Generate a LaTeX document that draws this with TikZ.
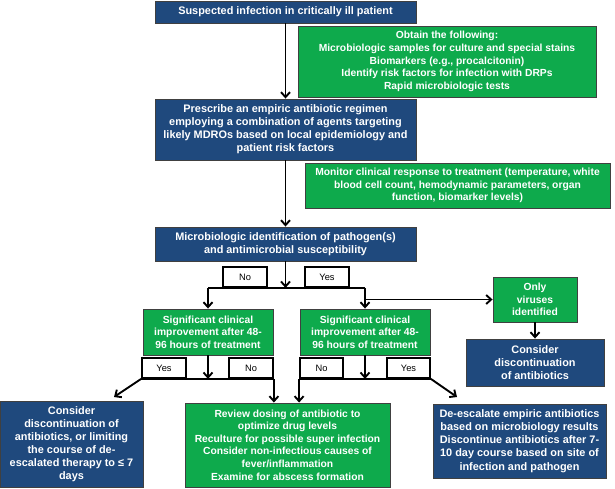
\documentclass[tikz,border=0pt]{standalone}
\usepackage{fontspec}
\setmainfont{Liberation Sans}
\usetikzlibrary{arrows.meta}
\definecolor{boxblue}{HTML}{1F497D}
\definecolor{boxgreen}{HTML}{0EAA4C}
\newcommand\mybox[7]{\node[#1, minimum width={(#5-#3)*1pt}, minimum height={(#6-#4)*1pt}] (#2) at ({(#3+#5)/2},{(#4+#6)/2}) {#7};}
\begin{document}
\begin{tikzpicture}[x=1pt,y=-1pt,
 base/.style={draw=black!75, line width=0.9pt, inner sep=0pt, align=center, text=white},
 bluebox/.style={base, fill=boxblue, font=\fontsize{10.9}{13.1}\selectfont\bfseries},
 greenbox/.style={base, fill=boxgreen, font=\fontsize{10.3}{12.6}\selectfont\bfseries},
 lbl/.style={draw=black, line width=1.8pt, fill=white, inner sep=0pt, font=\fontsize{9.3}{10}\selectfont},
 conn/.style={line width=1.9pt, draw=black},
 arr/.style={conn, -{Straight Barb[length=5pt,width=9pt]}},
]
\useasboundingbox (0,0) rectangle (615,488);

\mybox{bluebox}{top}{155}{1}{416}{23}{Suspected infection in critically ill patient}
\mybox{greenbox}{obtain}{298}{26}{596}{97}{Obtain the following:\\Microbiologic samples for culture and special stains\\Biomarkers (e.g., procalcitonin)\\Identify risk factors for infection with DRPs\\Rapid microbiologic tests}
\mybox{bluebox}{prescribe}{155}{99}{416}{160}{Prescribe an empiric antibiotic regimen\\employing a combination of agents targeting\\likely MDROs based on local epidemiology and\\patient risk factors}
\mybox{greenbox}{monitor}{305}{163}{610}{208}{Monitor clinical response to treatment (temperature, white\\blood cell count, hemodynamic parameters, organ\\function, biomarker levels)}
\mybox{bluebox}{micro}{155}{227}{416}{261}{Microbiologic identification of pathogen(s)\\and antimicrobial susceptibility}
\mybox{lbl}{noA}{223}{267}{267}{287}{No}
\mybox{lbl}{yesA}{305}{267}{349}{287}{Yes}
\mybox{greenbox}{virus}{493}{277}{577}{322}{Only\\viruses\\identified}
\mybox{bluebox}{considerR}{466}{339}{604}{386}{Consider\\discontinuation\\of antibiotics}
\mybox{greenbox}{sigL}{143}{309}{273}{355}{Significant clinical\\improvement after 48-\\96 hours of treatment}
\mybox{greenbox}{sigM}{300}{309}{430}{355}{Significant clinical\\improvement after 48-\\96 hours of treatment}
\mybox{lbl}{yesL}{142}{358}{186}{378}{Yes}
\mybox{lbl}{noL}{229}{358}{273}{378}{No}
\mybox{lbl}{noM}{300}{358}{343}{378}{No}
\mybox{lbl}{yesM}{387}{358}{430}{378}{Yes}
\mybox{bluebox}{limit}{0}{401}{143}{487}{Consider\\discontinuation of\\antibiotics, or limiting\\the course of de-\\escalated therapy to ≤ 7\\days}
\mybox{greenbox}{review}{185}{403}{390}{487}{Review dosing of antibiotic to\\optimize drug levels\\Reculture for possible super infection\\Consider non-infectious causes of\\fever/inflammation\\Examine for abscess formation}
\mybox{bluebox}{deesc}{433}{404}{606}{478}{De-escalate empiric antibiotics\\based on microbiology results\\Discontinue antibiotics after 7-\\10 day course based on site of\\infection and pathogen}

\draw[arr] (top) -- (prescribe);
\draw[arr] (prescribe) -- (micro);
\coordinate (j1) at (micro.south |- noA.south);
\draw[arr] (micro) -- (j1);
\draw[conn] (sigL.north |- j1) -- (sigM.north |- j1);
\draw[arr] (sigL.north |- j1) -- (sigL.north);
\draw[arr] (sigM.north |- j1) -- (sigM.north);
\draw[arr] (sigM.north |- virus.west) -- (virus.west);
\draw[arr] (virus) -- (considerR);

\coordinate (j2) at (sigL.south |- yesL.south);
\draw[arr] (sigL) -- (j2);
\draw[conn] (yesL.south west) -- (noL.south east);
\coordinate (tipL) at (114,397);
\draw[arr] (yesL.south west) -- (tipL);
\draw[arr] (noL.south east) -- (noL.south east |- review.north);

\coordinate (j3) at (sigM.south |- yesM.south);
\draw[arr] (sigM) -- (j3);
\draw[conn] (noM.south west) -- (yesM.south east);
\draw[arr] (noM.south west) -- (noM.south west |- review.north);
\coordinate (tipR) at (457,397);
\draw[arr] (yesM.south east) -- (tipR);
\end{tikzpicture}
\end{document}
